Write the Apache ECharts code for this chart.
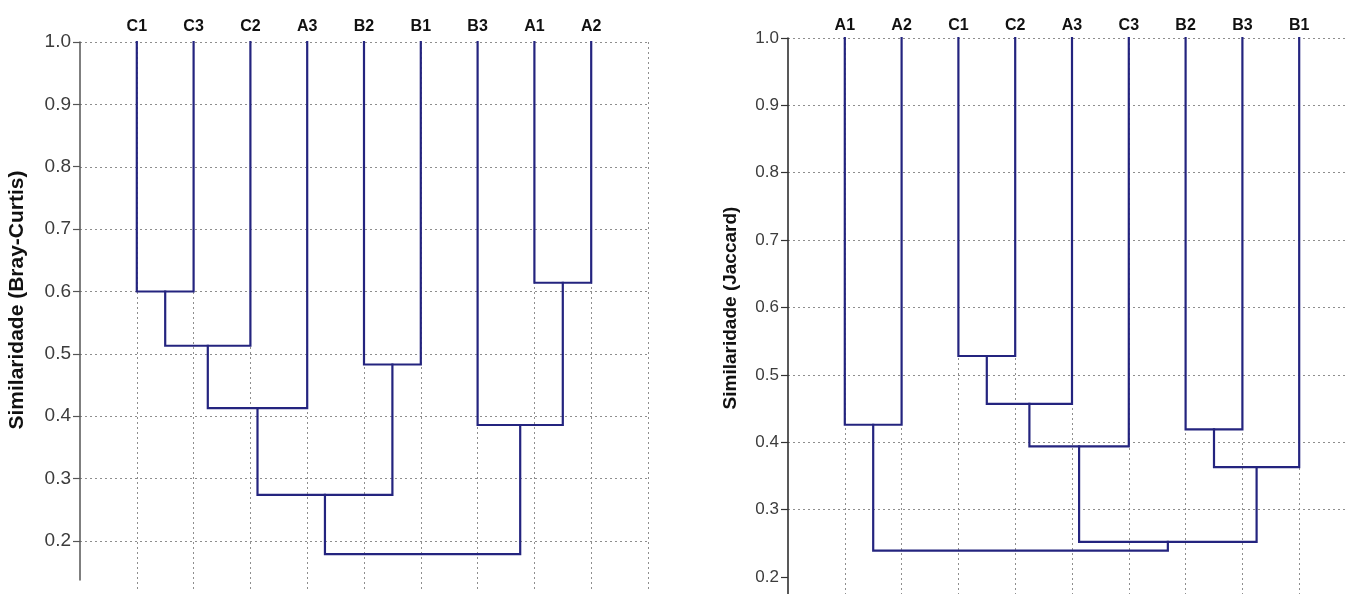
<!DOCTYPE html>
<html>
<head>
<meta charset="utf-8">
<script src="https://cdn.jsdelivr.net/npm/echarts@6/dist/echarts.min.js"></script>
<style>
  html, body { margin: 0; padding: 0; background: #ffffff; }
  #chart { width: 1348px; height: 594px; }
</style>
</head>
<body>
<div id="chart"></div>
<script>
// Bray-Curtis dendrogram: leaf order and merges.
// Each merge is [child A, child B, similarity]; an index >= leaves.length
// points to the cluster created by an earlier merge (in order).
const bcLeaves = ['C1', 'C3', 'C2', 'A3', 'B2', 'B1', 'B3', 'A1', 'A2'];
const bcMerges = [
  [0, 1, 0.600],
  [9, 2, 0.513],
  [10, 3, 0.413],
  [4, 5, 0.483],
  [11, 12, 0.274],
  [7, 8, 0.614],
  [6, 14, 0.386],
  [13, 15, 0.179]
];

// Jaccard dendrogram
const jcLeaves = ['A1', 'A2', 'C1', 'C2', 'A3', 'C3', 'B2', 'B3', 'B1'];
const jcMerges = [
  [0, 1, 0.426],
  [2, 3, 0.528],
  [10, 4, 0.457],
  [11, 5, 0.394],
  [6, 7, 0.419],
  [13, 8, 0.363],
  [12, 14, 0.252],
  [9, 15, 0.239]
];

// Similarity of a leaf with itself
const leafSimilarity = 1.0;
// Labelled ticks on the similarity axes
const simTicks = [0.2, 0.3, 0.4, 0.5, 0.6, 0.7, 0.8, 0.9, 1.0];

const LINK_COLOR = '#24247f';
const GRID_LINE = { type: [2, 3], color: '#8e8e8e', width: 1 };
const FONT = 'Liberation Sans, Arial, sans-serif';

// Turn a merge list into the U-shaped links of the tree
function buildLinks(leaves, merges) {
  const nodes = leaves.map((_, i) => ({ x: i, y: leafSimilarity }));
  const links = [];
  merges.forEach(([a, b, sim]) => {
    const na = nodes[a], nb = nodes[b];
    links.push([[na.x, na.y], [na.x, sim], [nb.x, sim], [nb.x, nb.y]]);
    nodes.push({ x: (na.x + nb.x) / 2, y: sim });
  });
  return links;
}

function linkSeries(links, xi, yi) {
  return links.map(pts => ({
    type: 'line',
    xAxisIndex: xi,
    yAxisIndex: yi,
    data: pts,
    showSymbol: false,
    symbol: 'none',
    silent: true,
    animation: false,
    z: 5,
    lineStyle: { color: LINK_COLOR, width: 2.2, cap: 'square', join: 'miter' }
  }));
}

function leafAxis(grid, leaves, margin) {
  return {
    gridIndex: grid,
    type: 'value',
    position: 'top',
    min: -1,
    max: 9,
    interval: 1,
    axisLine: { show: false, onZero: false },
    axisTick: { show: false },
    axisLabel: {
      formatter: v => leaves[v] || '',
      fontFamily: FONT,
      fontWeight: 'bold',
      fontSize: 16,
      color: '#111111',
      margin: margin
    },
    splitLine: { show: true, showMinLine: false, lineStyle: GRID_LINE }
  };
}

const chart = echarts.init(document.getElementById('chart'), null, { renderer: 'canvas' });

chart.setOption({
  backgroundColor: '#ffffff',
  animation: false,
  grid: [
    { left: 80, top: 42, width: 568, height: 550, outerBoundsMode: 'none' },   // Bray-Curtis plot area
    { left: 80, top: 42, width: 568, height: 538, outerBoundsMode: 'none' },   // Bray-Curtis axis
    { left: 788, top: 38, width: 568, height: 600, outerBoundsMode: 'none' }   // Jaccard
  ],
  xAxis: [
    leafAxis(0, bcLeaves, 7),
    { gridIndex: 1, type: 'value', min: -1, max: 9, show: false },
    leafAxis(2, jcLeaves, 4)
  ],
  yAxis: [
    {
      gridIndex: 0, type: 'value',
      min: 1 - 550 / 623.75, max: 1,
      minInterval: 0.1, maxInterval: 0.1,
      axisLine: { show: false, onZero: false },
      axisTick: { show: false },
      axisLabel: { show: false },
      splitLine: { show: true, showMinLine: false, lineStyle: GRID_LINE }
    },
    {
      gridIndex: 1, type: 'value',
      min: 1 - 538 / 623.75, max: 1,
      minInterval: 0.1, maxInterval: 0.1,
      axisLine: { show: true, onZero: false, lineStyle: { color: '#555555', width: 1.5 } },
      axisTick: { show: true, inside: false, length: 7, customValues: simTicks, lineStyle: { color: '#555555', width: 1.2 } },
      axisLabel: {
        customValues: simTicks,
        formatter: v => v.toFixed(1),
        fontFamily: FONT, fontSize: 19, color: '#3c3c3c', margin: 9
      },
      splitLine: { show: false }
    },
    {
      gridIndex: 2, type: 'value',
      min: 1 - 600 / 673.75, max: 1,
      minInterval: 0.1, maxInterval: 0.1,
      axisLine: { show: true, onZero: false, lineStyle: { color: '#222222', width: 1.5 } },
      axisTick: { show: true, inside: false, length: 7, customValues: simTicks, lineStyle: { color: '#333333', width: 1.2 } },
      axisLabel: {
        customValues: simTicks,
        formatter: v => v.toFixed(1),
        fontFamily: FONT, fontSize: 17, color: '#3c3c3c', margin: 9
      },
      splitLine: { show: true, showMinLine: false, lineStyle: GRID_LINE }
    }
  ],
  graphic: [
    {
      type: 'text', x: 17, y: 300, rotation: Math.PI / 2,
      style: {
        text: 'Similaridade (Bray-Curtis)',
        font: 'bold 21px ' + FONT, fill: '#111111',
        textAlign: 'center', textVerticalAlign: 'middle'
      }
    },
    {
      type: 'text', x: 731, y: 308, rotation: Math.PI / 2,
      style: {
        text: 'Similaridade (Jaccard)',
        font: 'bold 19px ' + FONT, fill: '#111111',
        textAlign: 'center', textVerticalAlign: 'middle'
      }
    }
  ],
  series: [
    ...linkSeries(buildLinks(bcLeaves, bcMerges), 0, 0),
    ...linkSeries(buildLinks(jcLeaves, jcMerges), 2, 2)
  ]
});
</script>
</body>
</html>
